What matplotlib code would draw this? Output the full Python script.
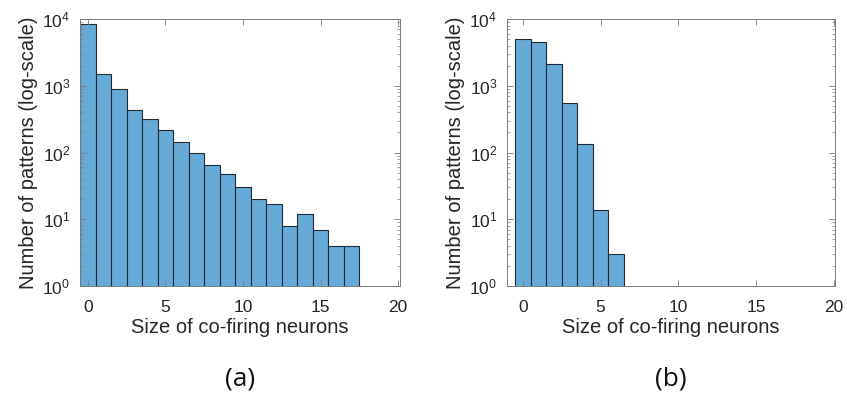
import numpy as np
import matplotlib
matplotlib.use("Agg")
import matplotlib.pyplot as plt

plt.rcParams['font.family'] = ['Liberation Sans', 'DejaVu Sans']
plt.rcParams['mathtext.fontset'] = 'custom'
plt.rcParams['mathtext.rm'] = 'Liberation Sans'

sizes_a = list(range(18))
counts_a = [8500, 1500, 900, 430, 320, 219, 146, 100, 66, 47, 30, 20, 17, 8, 12, 7, 4, 4]
sizes_b = list(range(7))
counts_b = [5000, 4500, 2100, 555, 132, 14, 3]
xticks = [0, 5, 10, 15, 20]
xlabel = "Size of co-firing neurons"
ylabel = "Number of patterns (log-scale)"
panel_labels = ["(a)", "(b)"]

face = (0.4, 0.668, 0.845)
edge = '#1f2a36'
axcol = '#7a7a7a'
txtcol = '#262626'

fig = plt.figure(figsize=(8.47, 3.97), dpi=100)
axes = [fig.add_axes([0.0945, 0.2796, 0.3775, 0.6724]),
        fig.add_axes([0.5986, 0.2796, 0.3874, 0.6724])]
data = [(sizes_a, counts_a, (-0.5, 20.1)), (sizes_b, counts_b, (-1.03, 20.1))]

for ax, (xs, ys, xl), lab in zip(axes, data, panel_labels):
    ax.bar(xs, ys, width=1.0, color=face, edgecolor=edge, linewidth=0.8)
    ax.set_yscale('log')
    ax.set_ylim(1, 1e4)
    ax.set_xlim(*xl)
    ax.set_xticks(xticks)
    ax.tick_params(axis='both', which='both', direction='in', top=True, right=True,
                   colors=axcol, labelcolor=txtcol, labelsize=12.5)
    ax.tick_params(axis='x', which='major', pad=10)
    ax.tick_params(axis='y', which='major', pad=7)
    ax.tick_params(axis='both', which='major', length=4, width=0.6)
    ax.tick_params(axis='y', which='minor', length=2, width=0.5)
    for sp in ax.spines.values():
        sp.set_color(axcol)
        sp.set_linewidth(0.7)
    ax.set_xlabel(xlabel, fontsize=14.5, color=txtcol, labelpad=2)
    ax.set_ylabel(ylabel, fontsize=14.5, color=txtcol, labelpad=3)
    ax.text(0.5, -0.35, lab, transform=ax.transAxes, ha='center', va='center',
            fontsize=19, color='#111111', family=['Open Sans', 'DejaVu Sans'])

fig.savefig('out.png', dpi=100)
